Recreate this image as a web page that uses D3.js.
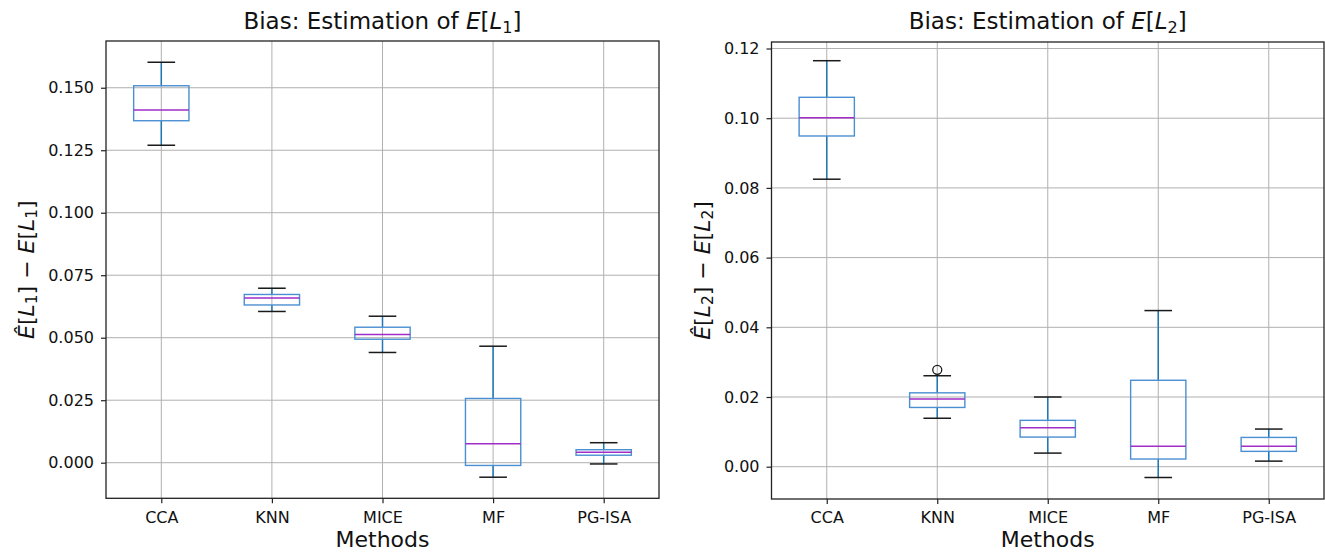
<!DOCTYPE html>
<html>
<head>
<meta charset="utf-8">
<script src="https://cdn.jsdelivr.net/npm/d3@7"></script>
<style>
  body { margin: 0; background: #fff; }
  svg text { font-family: "DejaVu Sans", sans-serif; fill: #111; }
</style>
</head>
<body>
<div id="container"></div>
<script>
// box plot summaries

const methods = ["CCA", "KNN", "MICE", "MF", "PG-ISA"];

// E[L1] panel
const l1Low    = [0.1270, 0.0605, 0.0441, -0.0058, -0.0005];
const l1Q1     = [0.1368, 0.0631, 0.0494, -0.0011, 0.0030];
const l1Median = [0.1411, 0.0659, 0.0513, 0.0076, 0.0042];
const l1Q3     = [0.1508, 0.0673, 0.0542, 0.0257, 0.0052];
const l1High   = [0.1602, 0.0698, 0.0586, 0.0466, 0.0080];
const l1Outliers = [];
const l1Ticks  = [0, 0.025, 0.05, 0.075, 0.1, 0.125, 0.15];

// E[L2] panel
const l2Low    = [0.0825, 0.0139, 0.0039, -0.0031, 0.0016];
const l2Q1     = [0.0949, 0.0170, 0.0085, 0.0022, 0.0044];
const l2Median = [0.1001, 0.0194, 0.0112, 0.0059, 0.0059];
const l2Q3     = [0.1060, 0.0212, 0.0133, 0.0248, 0.0084];
const l2High   = [0.1165, 0.0261, 0.0200, 0.0448, 0.0108];
const l2Outliers = [{ method: "KNN", value: 0.0278 }];
const l2Ticks  = [0, 0.02, 0.04, 0.06, 0.08, 0.1, 0.12];

const width = 1325, height = 553;

const svg = d3.select("#container").append("svg")
    .attr("width", width)
    .attr("height", height);

function mathLabel(text, parts){
    // parts: [string, italic?, subscript?, back to baseline?]
    parts.forEach(function(p){
        var t = text.append("tspan").text(p[0]);
        if (p[1]) t.style("font-style", "italic");
        if (p[2]) t.attr("font-size", "0.7em").attr("dy", "0.22em");
        if (p[3]) t.attr("dy", "-0.154em");
    });
}

function drawPanel(o){

    const g = svg.append("g");

    const x = d3.scalePoint()
        .domain(methods)
        .range([o.left, o.right])
        .padding(0.5);

    const y = d3.scaleLinear()
        .domain(o.domain)
        .range([o.bottom, o.top]);

    const step = x.step(),
          boxW = step * 0.5,
          capW = step * 0.25;

    // grid
    g.append("g").selectAll("line.gy")
        .data(o.ticks).enter().append("line")
        .attr("x1", o.left).attr("x2", o.right)
        .attr("y1", d => y(d)).attr("y2", d => y(d))
        .attr("stroke", "#b0b0b0").attr("stroke-width", 1);

    g.append("g").selectAll("line.gx")
        .data(methods).enter().append("line")
        .attr("x1", d => x(d)).attr("x2", d => x(d))
        .attr("y1", o.top).attr("y2", o.bottom)
        .attr("stroke", "#b0b0b0").attr("stroke-width", 1);

    // axes
    const ya = g.append("g")
        .attr("transform", "translate(" + o.left + ",0)")
        .call(d3.axisLeft(y).tickValues(o.ticks).tickFormat(d3.format(o.fmt))
              .tickSize(5).tickPadding(7));
    const xa = g.append("g")
        .attr("transform", "translate(0," + o.bottom + ")")
        .call(d3.axisBottom(x).tickSize(5).tickPadding(8));

    [ya, xa].forEach(function(a){
        a.select(".domain").remove();
        a.selectAll("line").attr("stroke", "#222").attr("stroke-width", 1.2);
        a.selectAll("text").attr("font-size", 16)
            .attr("font-family", "DejaVu Sans").attr("fill", "#111");
    });

    // boxes
    const rows = methods.map((m, i) => ({
        m: m, lo: o.low[i], q1: o.q1[i], med: o.median[i], q3: o.q3[i], hi: o.high[i]
    }));

    const b = g.append("g").selectAll("g")
        .data(rows).enter().append("g");

    b.append("line")
        .attr("x1", d => x(d.m)).attr("x2", d => x(d.m))
        .attr("y1", d => y(d.hi)).attr("y2", d => y(d.q3))
        .attr("stroke", "#1f77b4").attr("stroke-width", 1.5);
    b.append("line")
        .attr("x1", d => x(d.m)).attr("x2", d => x(d.m))
        .attr("y1", d => y(d.q1)).attr("y2", d => y(d.lo))
        .attr("stroke", "#1f77b4").attr("stroke-width", 1.5);

    b.append("line")
        .attr("x1", d => x(d.m) - capW / 2).attr("x2", d => x(d.m) + capW / 2)
        .attr("y1", d => y(d.hi)).attr("y2", d => y(d.hi))
        .attr("stroke", "#1a1a1a").attr("stroke-width", 1.5);
    b.append("line")
        .attr("x1", d => x(d.m) - capW / 2).attr("x2", d => x(d.m) + capW / 2)
        .attr("y1", d => y(d.lo)).attr("y2", d => y(d.lo))
        .attr("stroke", "#1a1a1a").attr("stroke-width", 1.5);

    b.append("rect")
        .attr("x", d => x(d.m) - boxW / 2)
        .attr("width", boxW)
        .attr("y", d => y(d.q3))
        .attr("height", d => y(d.q1) - y(d.q3))
        .attr("fill", "none")
        .attr("stroke", "#4a8fd2").attr("stroke-width", 1.4);

    b.append("line")
        .attr("x1", d => x(d.m) - boxW / 2).attr("x2", d => x(d.m) + boxW / 2)
        .attr("y1", d => y(d.med)).attr("y2", d => y(d.med))
        .attr("stroke", "#a12cc8").attr("stroke-width", 1.5);

    g.append("g").selectAll("circle")
        .data(o.outliers).enter().append("circle")
        .attr("cx", d => x(d.method))
        .attr("cy", d => y(d.value))
        .attr("r", 4.5)
        .attr("fill", "none")
        .attr("stroke", "#1a1a1a").attr("stroke-width", 1.3);

    // frame
    g.append("rect")
        .attr("x", o.left).attr("y", o.top)
        .attr("width", o.right - o.left).attr("height", o.bottom - o.top)
        .attr("fill", "none").attr("stroke", "#222").attr("stroke-width", 1.3);

    // title
    const title = g.append("text")
        .attr("x", (o.left + o.right) / 2)
        .attr("y", 29)
        .attr("text-anchor", "middle")
        .attr("font-size", 23);
    mathLabel(title, [
        ["Bias: Estimation of "], ["E", true], ["["], ["L", true],
        [o.sub, false, true], ["]", false, false, true]
    ]);

    // x label
    g.append("text")
        .attr("x", (o.left + o.right) / 2)
        .attr("y", 547)
        .attr("text-anchor", "middle")
        .attr("font-size", 22)
        .text("Methods");

    // y label
    const yl = g.append("text")
        .attr("transform", "translate(" + o.ylabelX + "," + ((o.top + o.bottom) / 2) + ") rotate(-90)")
        .attr("text-anchor", "middle")
        .attr("font-size", 22);
    mathLabel(yl, [
        ["\u00CA", true], ["["], ["L", true], [o.sub, false, true],
        ["] \u2212 ", false, false, true], ["E", true], ["["], ["L", true],
        [o.sub, false, true], ["]", false, false, true]
    ]);
}

drawPanel({
    left: 106, right: 659, top: 41, bottom: 498.3,
    domain: [-0.01424, 0.1687],
    ticks: l1Ticks, fmt: ".3f",
    low: l1Low, q1: l1Q1, median: l1Median, q3: l1Q3, high: l1High,
    outliers: l1Outliers, sub: "1", ylabelX: 34
});

drawPanel({
    left: 771.5, right: 1324, top: 42, bottom: 499,
    domain: [-0.00927, 0.12187],
    ticks: l2Ticks, fmt: ".2f",
    low: l2Low, q1: l2Q1, median: l2Median, q3: l2Q3, high: l2High,
    outliers: l2Outliers, sub: "2", ylabelX: 710
});
</script>
</body>
</html>
